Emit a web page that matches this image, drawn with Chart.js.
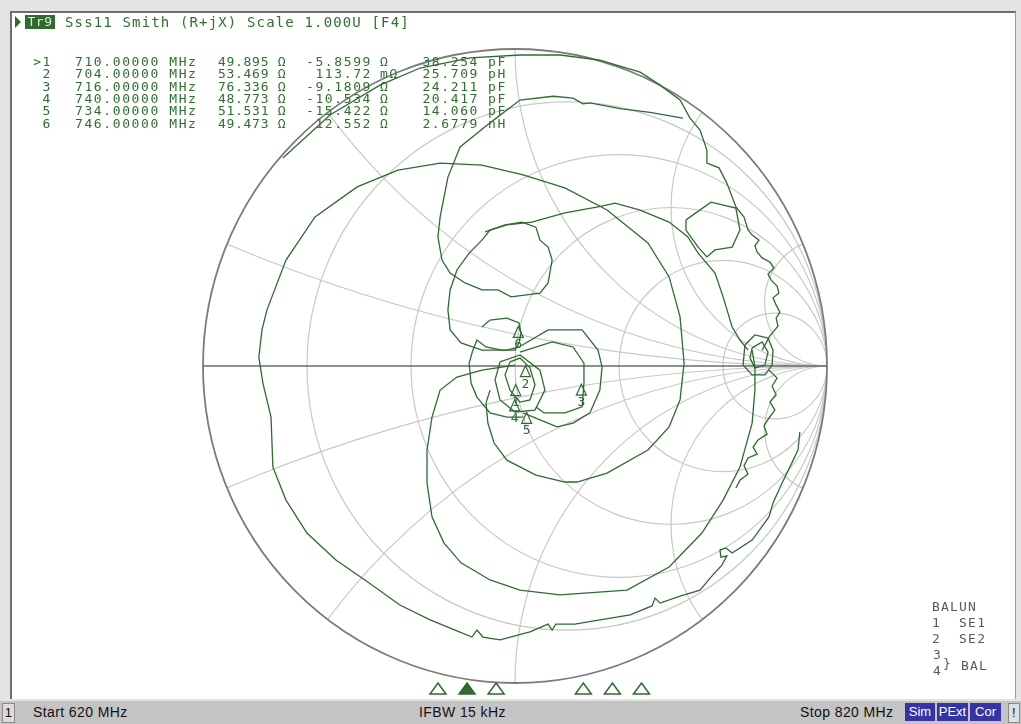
<!DOCTYPE html>
<html><head><meta charset="utf-8">
<script src="https://cdn.jsdelivr.net/npm/chart.js@4.4.1/dist/chart.umd.min.js"></script>
<style>
html,body{margin:0;padding:0;width:1021px;height:724px;overflow:hidden;background:#e4e4e4;font-family:"DejaVu Sans Mono",monospace;}
#panel{position:absolute;left:10px;top:11px;width:1006px;height:688px;background:#fff;border-left:2px solid #6e6e6e;border-top:2px solid #6e6e6e;border-right:1px solid #9a9a9a;box-sizing:border-box;}
canvas{position:absolute;left:0;}
#smith{top:0;}
#fstrip{top:678px;}
.t{position:absolute;white-space:pre;font-family:"DejaVu Sans Mono",monospace;font-size:13px;letter-spacing:1.6px;color:#2f702f;line-height:13px;}
#tr{position:absolute;left:25px;top:15px;width:30px;height:14px;background:#2f6b2f;color:#d8eed8;font-size:13px;line-height:14px;text-align:center;letter-spacing:0.5px;}
#arrow{position:absolute;left:15px;top:16px;width:0;height:0;border-top:6px solid transparent;border-bottom:6px solid transparent;border-left:6px solid #2f6b2f;}
#status{position:absolute;left:0;top:701px;width:1021px;height:23px;background:#c4c4c4;font-family:"Liberation Sans",Arial,sans-serif;font-size:14px;letter-spacing:0.4px;color:#111;}
#status div{position:absolute;top:3px;white-space:pre;}
#status .box{top:2px;height:18px;line-height:18px;background:#3434a4;color:#fff;text-align:center;letter-spacing:0;font-size:13px;}
</style></head>
<body>
<div id="panel"></div>
<canvas id="smith" width="1021" height="724"></canvas>
<canvas id="fstrip" width="1021" height="20"></canvas>
<div id="arrow"></div>
<div id="tr">Tr9</div>
<div class="t" style="left:65px;top:16px;letter-spacing:1.15px;font-size:14px;">Sss11 Smith (R+jX) Scale 1.000U [F4]</div>
<div id="table"></div>
<div id="bal"></div>
<div id="status">
  <div style="left:2px;top:2px;width:11px;height:18px;line-height:18px;background:#dcdcdc;border:1px solid #8a8a8a;text-align:center;font-size:13px;">1</div>
  <div style="left:33px;">Start 620 MHz</div>
  <div style="left:419px;">IFBW 15 kHz</div>
  <div style="left:800px;">Stop 820 MHz</div>
  <div class="box" style="left:905px;width:30px;">Sim</div>
  <div class="box" style="left:937px;width:31px;">PExt</div>
  <div class="box" style="left:970px;width:31px;">Cor</div>
  <div style="left:1008px;top:2px;width:10px;height:18px;line-height:18px;background:#e0e0e0;border:1px solid #8a8a8a;text-align:center;font-size:13px;">!</div>
</div>
<script>
// ---------- data ----------
const Z0 = 50;
const markerLabels   = ['1','2','3','4','5','6'];
const markerFreq     = [710, 704, 716, 740, 734, 746];           // MHz
const markerR        = [49.895, 53.469, 76.336, 48.773, 51.531, 49.473];  // ohm
const markerX        = [-5.8599, 0.11372, -9.1809, -10.534, -15.422, 12.552]; // ohm
const markerFreqText = ['710.00000','704.00000','716.00000','740.00000','734.00000','746.00000'];
const markerRText    = ['49.895','53.469','76.336','48.773','51.531','49.473'];
const markerXText    = ['-5.8599','113.72','-9.1809','-10.534','-15.422','12.552'];
const markerXUnit    = ['Ω','mΩ','Ω','Ω','Ω','Ω'];
const markerLCText   = ['38.254','25.709','24.211','20.417','14.060','2.6779'];
const markerLCUnit   = ['pF','pH','pF','pF','pF','nH'];
const activeMarker   = 0;
const freqStart = 620, freqStop = 820;
const rCircles = [0.2, 0.5, 1, 2, 5];
const xArcs    = [0.2, 0.5, 1, 2, 5];
const balunLines = ['BALUN','1  SE1','2  SE2'];

// trace segments, reflection coefficient (Re, Im)
const traceA = [[0.913,-0.208],[0.907,-0.265],[0.881,-0.319],[0.856,-0.369],[0.827,-0.432],[0.814,-0.476],[0.760,-0.549],[0.696,-0.590],[0.676,-0.574],[0.657,-0.580],[0.660,-0.603],[0.679,-0.599],[0.663,-0.628],[0.628,-0.666],[0.593,-0.707],[0.529,-0.726],[0.465,-0.748],[0.449,-0.732],[0.439,-0.757],[0.369,-0.785],[0.272,-0.801],[0.192,-0.814],[0.131,-0.814],[0.119,-0.833],[0.106,-0.814],[0.048,-0.839],[-0.048,-0.864],[-0.103,-0.855],[-0.122,-0.833],[-0.138,-0.855],[-0.192,-0.833],[-0.272,-0.801],[-0.369,-0.754],[-0.481,-0.675],[-0.574,-0.612],[-0.667,-0.527],[-0.734,-0.423],[-0.776,-0.319],[-0.782,-0.161],[-0.808,-0.054],[-0.821,0.028],[-0.811,0.114],[-0.795,0.177],[-0.734,0.334],[-0.641,0.470],[-0.506,0.565],[-0.375,0.618],[-0.240,0.640],[-0.106,0.634],[0.026,0.603],[0.160,0.562],[0.295,0.492],[0.426,0.388],[0.494,0.281],[0.529,0.155],[0.542,0.009],[0.529,-0.107],[0.494,-0.192],[0.426,-0.265],[0.295,-0.338],[0.199,-0.366],[0.160,-0.366],[0.067,-0.344],[-0.026,-0.297],[-0.067,-0.243],[-0.087,-0.180],[-0.093,-0.117],[-0.080,-0.076]];
const traceB = [[-0.744,0.656],[-0.593,0.792],[-0.433,0.886],[-0.304,0.940],[-0.144,0.972],[0.016,0.981],[0.144,0.981],[0.272,0.965],[0.401,0.927],[0.465,0.886],[0.529,0.839],[0.561,0.782],[0.593,0.744],[0.615,0.681],[0.615,0.640],[0.654,0.625],[0.679,0.577],[0.708,0.502],[0.734,0.470],[0.747,0.429],[0.760,0.413],[0.782,0.397],[0.769,0.379],[0.776,0.360],[0.792,0.341],[0.817,0.328],[0.830,0.309],[0.811,0.290],[0.821,0.271],[0.840,0.252],[0.846,0.230],[0.827,0.215],[0.837,0.192],[0.849,0.170],[0.837,0.151],[0.843,0.126],[0.817,0.095],[0.792,0.050]];
const traceD = [[0,0.003],[-0.106,-0.013],[-0.186,-0.035],[-0.240,-0.076],[-0.266,-0.161],[-0.282,-0.265],[-0.282,-0.369],[-0.266,-0.476],[-0.228,-0.558],[-0.173,-0.621],[-0.080,-0.675],[0.016,-0.707],[0.144,-0.722],[0.359,-0.707],[0.494,-0.634],[0.599,-0.527],[0.667,-0.423],[0.721,-0.319],[0.760,-0.180],[0.769,-0.076],[0.769,-0.003],[0.760,0.050]];
const traceH = [[0.747,0.050],[0.721,0.082],[0.696,0.123],[0.667,0.218],[0.641,0.293],[0.587,0.356],[0.554,0.407],[0.494,0.454],[0.401,0.492],[0.321,0.514],[0.266,0.502],[0.160,0.483],[0.054,0.454],[-0.026,0.445],[-0.080,0.429],[-0.106,0.397],[-0.147,0.356],[-0.186,0.303],[-0.208,0.240],[-0.215,0.177],[-0.208,0.114],[-0.173,0.073],[-0.106,0.050],[-0.026,0.050],[0.013,0.060]];
const traceF = [[0.538,0.782],[0.433,0.800],[0.337,0.812],[0.240,0.830],[0.218,0.827],[0.186,0.845],[0.122,0.851],[0.016,0.839],[-0.080,0.767],[-0.176,0.691],[-0.215,0.596],[-0.240,0.470],[-0.247,0.407],[-0.234,0.334],[-0.208,0.293],[-0.160,0.262],[-0.106,0.240],[-0.054,0.240],[-0.013,0.218],[0.080,0.230],[0.106,0.262],[0.119,0.334],[0.106,0.375],[0.080,0.397],[0.067,0.438],[0.022,0.454],[-0.032,0.445],[-0.096,0.423]];
const traceG = [[0.814,-0.013],[0.840,-0.038],[0.824,-0.063],[0.837,-0.091],[0.817,-0.114],[0.833,-0.139],[0.814,-0.164],[0.798,-0.189],[0.808,-0.215],[0.779,-0.233],[0.763,-0.256],[0.776,-0.278],[0.747,-0.290],[0.734,-0.315],[0.747,-0.341],[0.721,-0.360],[0.708,-0.385]];
const loopTR = [[0.548,0.461],[0.628,0.517],[0.708,0.498],[0.721,0.429],[0.696,0.375],[0.641,0.366],[0.615,0.344],[0.587,0.375],[0.548,0.429],[0.548,0.461]];
const loopL = [[-0.106,0.123],[-0.080,0.145],[-0.026,0.151],[0.013,0.136],[0.019,0.104],[0.013,0.073],[0,0.050],[-0.042,0.050],[-0.093,0.060],[-0.122,0.082],[-0.135,0.050],[-0.147,0.009],[-0.141,-0.054],[-0.122,-0.098],[-0.080,-0.148],[-0.026,-0.161],[0.026,-0.161]];
const loopE = [[0.013,0.060],[0.106,0.114],[0.215,0.114],[0.266,0.050],[0.279,-0.003],[0.272,-0.076],[0.240,-0.148],[0.186,-0.180],[0.135,-0.192],[0.080,-0.170],[0.026,-0.148]];
const loopE2 = [[0.016,0.044],[0.119,0.076],[0.186,0.060],[0.221,0.009],[0.221,-0.054],[0.215,-0.129],[0.160,-0.148],[0.093,-0.148],[0.067,-0.129]];
const loopC1 = [[-0.016,0.013],[0.016,0.025],[0.048,-0.006],[0.064,-0.060],[0.048,-0.107],[0.016,-0.114],[-0.016,-0.076],[-0.032,-0.028],[-0.016,0.013]];
const loopC2 = [[-0.048,0.013],[0.016,0.035],[0.080,-0.013],[0.096,-0.076],[0.064,-0.139],[0,-0.145],[-0.048,-0.107],[-0.064,-0.044],[-0.048,0.013]];
const loopK1 = [[0.737,0.066],[0.769,0.098],[0.811,0.088],[0.827,0.050],[0.824,0.003],[0.801,-0.028],[0.760,-0.028],[0.731,0.003],[0.737,0.066]];
const loopK2 = [[0.760,0.057],[0.792,0.076],[0.811,0.044],[0.801,0.003],[0.769,-0.006],[0.753,0.025],[0.760,0.057]];
const traces = [traceA, traceB, traceD, traceH, traceF, traceG, loopTR, loopL, loopE, loopE2, loopC1, loopC2, loopK1, loopK2];

// ---------- texts ----------
const GREEN = '#2f6b2f';
const tbl = document.getElementById('table');
function addText(parent, txt, left, top, right, extra){
  const d = document.createElement('div'); d.className='t'; d.textContent = txt;
  if (right) { d.style.right = (1021 - left) + 'px'; d.style.textAlign='right'; } else d.style.left = left + 'px';
  d.style.top = top + 'px'; if (extra) Object.assign(d.style, extra); parent.appendChild(d);
}
markerLabels.forEach((m, i) => {
  const top = 55 + i * 12.3;
  addText(tbl, (i === activeMarker ? '>' : '') + m, 52, top, true);
  addText(tbl, markerFreqText[i] + ' MHz', 75, top);
  addText(tbl, markerRText[i] + ' Ω', 218, top, false, {letterSpacing:'0.7px'});
  addText(tbl, markerXText[i], 372, top, true);
  addText(tbl, markerXUnit[i], 380, top);
  addText(tbl, markerLCText[i], 479, top, true);
  addText(tbl, markerLCUnit[i], 488, top);
});
const bal = document.getElementById('bal');
const GREY = {color:'#5a5a5a', letterSpacing:'1.2px'};
balunLines.forEach((s, i) => addText(bal, s, 932, 600 + i * 16, false, GREY));
addText(bal, '3', 933, 648, false, GREY);
addText(bal, '4', 933, 664, false, GREY);
addText(bal, '}', 943, 657, false, GREY);
addText(bal, 'BAL', 961, 659, false, GREY);

// ---------- chart ----------
function gammaOf(R, X){ const r = R / Z0, x = X / Z0, d = (r + 1) * (r + 1) + x * x; return {x:(r * r + x * x - 1) / d, y:2 * x / d}; }

const smithGrid = {
  id:'smithGrid',
  beforeDatasetsDraw(chart){
    const {ctx, scales:{x:sx, y:sy}} = chart;
    const cx = sx.getPixelForValue(0), cy = sy.getPixelForValue(0);
    const ux = sx.getPixelForValue(1) - cx, uy = cy - sy.getPixelForValue(1);
    ctx.save();
    ctx.beginPath(); ctx.ellipse(cx, cy, ux, uy, 0, 0, 2 * Math.PI); ctx.clip();
    ctx.strokeStyle = '#c8c8c8'; ctx.lineWidth = 1.2;
    rCircles.forEach(r => { const c = r / (r + 1), rad = 1 / (r + 1);
      ctx.beginPath(); ctx.ellipse(sx.getPixelForValue(c), cy, rad * ux, rad * uy, 0, 0, 2 * Math.PI); ctx.stroke(); });
    xArcs.forEach(x => [1, -1].forEach(s => { const rad = 1 / x;
      ctx.beginPath(); ctx.ellipse(sx.getPixelForValue(1), sy.getPixelForValue(s / x), rad * ux, rad * uy, 0, 0, 2 * Math.PI); ctx.stroke(); }));
    ctx.restore();
    ctx.save(); ctx.strokeStyle = '#7c7c7c'; ctx.lineWidth = 1.8;
    ctx.beginPath(); ctx.ellipse(cx, cy, ux, uy, 0, 0, 2 * Math.PI); ctx.stroke();
    ctx.lineWidth = 1.6; ctx.strokeStyle = '#6a6a6a';
    ctx.beginPath(); ctx.moveTo(sx.getPixelForValue(-1), cy); ctx.lineTo(sx.getPixelForValue(1), cy); ctx.stroke();
    ctx.restore();
  }
};
const markerDraw = {
  id:'markerDraw',
  afterDatasetsDraw(chart){
    const {ctx, scales:{x:sx, y:sy}} = chart;
    ctx.save(); ctx.strokeStyle = GREEN; ctx.fillStyle = GREEN; ctx.lineWidth = 1.2;
    ctx.font = '13px "DejaVu Sans Mono"'; ctx.textAlign = 'center'; ctx.textBaseline = 'top';
    markerLabels.forEach((m, i) => {
      const g = gammaOf(markerR[i], markerX[i]);
      const px = sx.getPixelForValue(g.x), py = sy.getPixelForValue(g.y);
      ctx.beginPath(); ctx.moveTo(px, py); ctx.lineTo(px + 5, py + 11); ctx.lineTo(px - 5, py + 11); ctx.closePath(); ctx.stroke();
      ctx.fillText(m, px, py + 12);
    });
    ctx.restore();
  }
};
new Chart(document.getElementById('smith'), {
  type:'scatter',
  data:{datasets: traces.map(t => ({data:t.map(p => ({x:p[0], y:p[1]})), showLine:true, borderColor:GREEN, borderWidth:1.3, pointRadius:0, tension:0, fill:false}))},
  options:{responsive:false, animation:false, events:[],
    layout:{padding:{left:203, right:194, top:49, bottom:41}},
    scales:{x:{type:'linear', min:-1, max:1, display:false}, y:{type:'linear', min:-1, max:1, display:false}},
    plugins:{legend:{display:false}, tooltip:{enabled:false}}},
  plugins:[smithGrid, markerDraw]
});
const stripMarkers = {
  id:'stripMarkers',
  afterDatasetsDraw(chart){
    const {ctx, scales:{x:sx}} = chart;
    ctx.save(); ctx.lineWidth = 1.5; ctx.strokeStyle = GREEN;
    markerFreq.forEach((f, i) => {
      const px = sx.getPixelForValue(f);
      ctx.beginPath(); ctx.moveTo(px, 5); ctx.lineTo(px + 8, 16); ctx.lineTo(px - 8, 16); ctx.closePath();
      ctx.fillStyle = i === activeMarker ? GREEN : '#ffffff'; ctx.fill(); ctx.stroke();
    });
    ctx.restore();
  }
};
new Chart(document.getElementById('fstrip'), {
  type:'scatter',
  data:{datasets:[{data: markerFreq.map(f => ({x:f, y:0})), pointRadius:0}]},
  options:{responsive:false, animation:false, events:[],
    layout:{padding:{left:31, right:21, top:0, bottom:0}},
    scales:{x:{type:'linear', min:freqStart, max:freqStop, display:false}, y:{min:-1, max:1, display:false}},
    plugins:{legend:{display:false}, tooltip:{enabled:false}}},
  plugins:[stripMarkers]
});
</script>
</body></html>
